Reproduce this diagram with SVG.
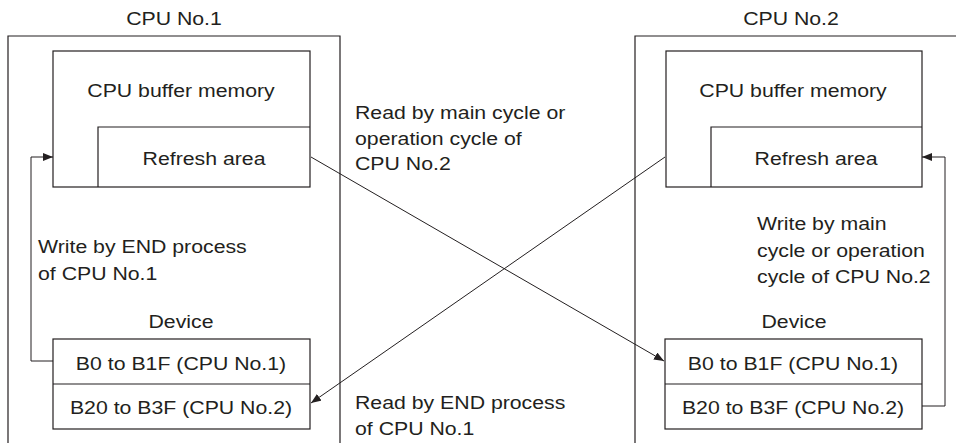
<svg xmlns="http://www.w3.org/2000/svg" width="956" height="443" viewBox="0 0 956 443">
<style>
text{font-family:"Liberation Sans",Arial,sans-serif;font-size:18.5px;fill:#231f20}
.m{text-anchor:middle}
.b{fill:none;stroke:#231f20;stroke-width:1.2}
.c{fill:none;stroke:#231f20;stroke-width:1}
</style>
<defs>
<marker id="ah" viewBox="0 0 10 8" refX="10" refY="4" markerWidth="10" markerHeight="8" markerUnits="userSpaceOnUse" orient="auto">
<path d="M0,0 L10,4 L0,8 Z" fill="#231f20"/>
</marker>
</defs>
<rect width="956" height="443" fill="#fff"/>
<g id="cpu1">
<path class="b" d="M8,445 V36 H340 V445"/>
<text class="m" transform="translate(174 25) scale(1.15 1)">CPU No.1</text>
</g>
<g id="cpu2">
<path class="b" d="M635,445 V36 H958"/>
<text class="m" transform="translate(791 25) scale(1.15 1)">CPU No.2</text>
</g>
<g id="buf1">
<rect class="b" x="53" y="51" width="257" height="136"/>
<text class="m" transform="translate(181 97) scale(1.15 1)">CPU buffer memory</text>
</g>
<g id="refresh1">
<path class="b" d="M98,187 V127 H310"/>
<text class="m" transform="translate(204 165) scale(1.15 1)">Refresh area</text>
</g>
<g id="buf2">
<rect class="b" x="666" y="51" width="256" height="136"/>
<text class="m" transform="translate(793 97) scale(1.15 1)">CPU buffer memory</text>
</g>
<g id="refresh2">
<path class="b" d="M711,187 V127 H922"/>
<text class="m" transform="translate(816 165) scale(1.15 1)">Refresh area</text>
</g>
<g id="dev1">
<text class="m" transform="translate(181 328) scale(1.15 1)">Device</text>
<rect class="b" x="53" y="339" width="257" height="90"/>
<line class="b" x1="53" y1="384" x2="310" y2="384"/>
<text class="m" transform="translate(181 370) scale(1.15 1)">B0 to B1F (CPU No.1)</text>
<text class="m" transform="translate(181 414) scale(1.15 1)">B20 to B3F (CPU No.2)</text>
</g>
<g id="dev2">
<text class="m" transform="translate(794 328) scale(1.15 1)">Device</text>
<rect class="b" x="665" y="339" width="257" height="90"/>
<line class="b" x1="665" y1="384" x2="922" y2="384"/>
<text class="m" transform="translate(793 370) scale(1.15 1)">B0 to B1F (CPU No.1)</text>
<text class="m" transform="translate(793 414) scale(1.15 1)">B20 to B3F (CPU No.2)</text>
</g>
<g id="connectors">
<path class="c" d="M53,361 H31 V157 H53" marker-end="url(#ah)"/>
<path class="c" d="M922,406 H945 V157 H922" marker-end="url(#ah)"/>
<line class="c" x1="311" y1="157" x2="664" y2="361" marker-end="url(#ah)"/>
<line class="c" x1="665" y1="157" x2="311" y2="403" marker-end="url(#ah)"/>
</g>
<g id="labels">
<text transform="translate(38 253) scale(1.15 1)">Write by END process</text>
<text transform="translate(38 280) scale(1.15 1)">of CPU No.1</text>
<text transform="translate(757 230) scale(1.15 1)">Write by main</text>
<text transform="translate(757 257) scale(1.15 1)">cycle or operation</text>
<text transform="translate(757 283) scale(1.15 1)">cycle of CPU No.2</text>
<text transform="translate(355 119) scale(1.15 1)">Read by main cycle or</text>
<text transform="translate(355 145) scale(1.15 1)">operation cycle of</text>
<text transform="translate(355 170) scale(1.15 1)">CPU No.2</text>
<text transform="translate(355 409) scale(1.15 1)">Read by END process</text>
<text transform="translate(355 435) scale(1.15 1)">of CPU No.1</text>
</g>
</svg>
